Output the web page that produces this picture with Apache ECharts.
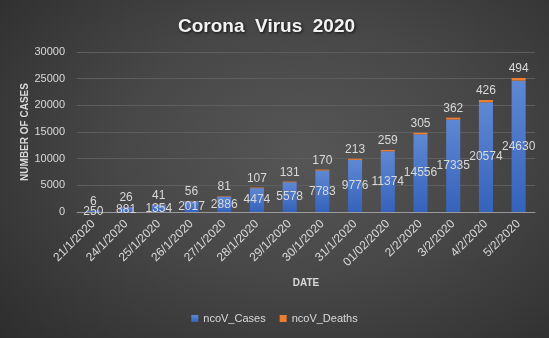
<!DOCTYPE html>
<html>
<head>
<meta charset="utf-8">
<script src="https://cdn.jsdelivr.net/npm/echarts@6/dist/echarts.min.js"></script>
<style>
  html, body { margin: 0; padding: 0; }
  body {
    width: 549px; height: 338px; overflow: hidden;
    background: radial-gradient(ellipse 75% 85% at 55% 45%, #565656 0%, #474747 45%, #2c2c2c 100%);
  }
  #chart { width: 549px; height: 338px; }
</style>
</head>
<body>
<div id="chart"></div>
<script>
// Daily cumulative counts
const dates = ['21/1/2020', '24/1/2020', '25/1/2020', '26/1/2020', '27/1/2020', '28/1/2020', '29/1/2020',
  '30/1/2020', '31/1/2020', '01/02/2020', '2/2/2020', '3/2/2020', '4/2/2020', '5/2/2020'];
const cases = [250, 881, 1354, 2017, 2886, 4474, 5578, 7783, 9776, 11374, 14556, 17335, 20574, 24630];
const deaths = [6, 26, 41, 56, 81, 107, 131, 170, 213, 259, 305, 362, 426, 494];
const yTicks = [0, 5000, 10000, 15000, 20000, 25000, 30000];

const textColor = '#d9d9d9';
const font = '"Liberation Sans", Arial, sans-serif';

const chart = echarts.init(document.getElementById('chart'), null, { renderer: 'canvas' });
chart.setOption({
  backgroundColor: 'transparent',
  animation: false,
  textStyle: { fontFamily: font },
  title: {
    text: 'Corona  Virus  2020',
    left: 173,
    top: 12,
    textStyle: {
      color: '#f2f2f2', fontSize: 19, fontWeight: 'bold', fontFamily: font,
      textShadowColor: 'rgba(0,0,0,0.8)', textShadowBlur: 3, textShadowOffsetX: 1, textShadowOffsetY: 1
    }
  },
  legend: {
    bottom: 9,
    left: 'center',
    itemWidth: 7, itemHeight: 7, itemGap: 14,
    icon: 'rect',
    textStyle: { color: textColor, fontSize: 11, fontFamily: font },
    data: ['ncoV_Cases', 'ncoV_Deaths']
  },
  grid: { left: 77, right: 14, top: 52, bottom: 126 },
  xAxis: {
    type: 'category',
    data: dates,
    name: 'DATE',
    nameLocation: 'middle',
    nameGap: 66,
    nameTextStyle: { color: textColor, fontWeight: 'bold', fontSize: 10, fontFamily: font },
    axisLine: { lineStyle: { color: '#9a9a9a', width: 1 } },
    axisTick: { show: false },
    axisLabel: { color: textColor, fontSize: 12, rotate: 45, margin: 10, interval: 0, fontFamily: font }
  },
  yAxis: {
    type: 'value',
    min: yTicks[0],
    max: yTicks[yTicks.length - 1],
    interval: yTicks[1] - yTicks[0],
    name: 'NUMBER OF CASES',
    nameLocation: 'middle',
    nameGap: 47,
    nameMoveOverlap: false,
    nameRotate: 90,
    nameTextStyle: { color: textColor, fontWeight: 'bold', fontSize: 10, fontFamily: font },
    axisLine: { show: false },
    axisTick: { show: false },
    splitLine: { lineStyle: { color: '#5e5e5e', width: 1 } },
    axisLabel: { color: textColor, fontSize: 11, margin: 12, fontFamily: font, formatter: v => String(v) }
  },
  series: [
    {
      name: 'ncoV_Cases',
      type: 'bar',
      stack: 'total',
      barWidth: '43%',
      data: cases,
      itemStyle: {
        color: new echarts.graphic.LinearGradient(0, 0, 0, 1, [
          { offset: 0, color: '#5f88d3' },
          { offset: 1, color: '#3562bb' }
        ])
      },
      label: {
        show: true, position: 'inside', color: textColor, fontSize: 12, fontFamily: font
      }
    },
    {
      name: 'ncoV_Deaths',
      type: 'bar',
      stack: 'total',
      barWidth: '43%',
      data: deaths,
      itemStyle: { color: '#ed7d31' },
      label: {
        show: true, position: 'top', distance: 3, color: textColor, fontSize: 12, fontFamily: font
      }
    }
  ]
});
</script>
</body>
</html>
